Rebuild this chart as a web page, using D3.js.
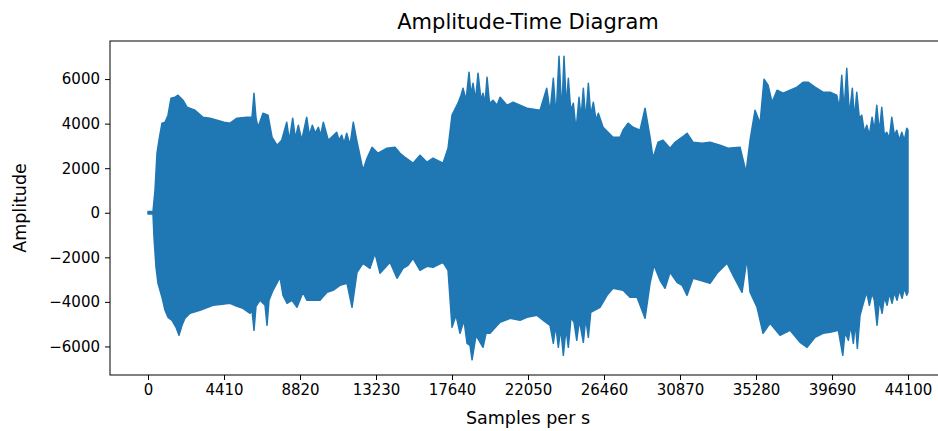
<!DOCTYPE html>
<html>
<head>
<meta charset="utf-8">
<script src="https://cdn.jsdelivr.net/npm/d3@7"></script>
<style>
  html, body { margin: 0; padding: 0; background: #fff; }
  svg { display: block; overflow: hidden; }
  text { font-family: "DejaVu Sans", sans-serif; fill: #000; }
</style>
</head>
<body>
<svg id="chart" width="938" height="431"></svg>
<script>
// Waveform envelope of a 1-second clip sampled at 44100 Hz: [sample index, amplitude]
const upperEnvelope = [
  [0, 60], [290, 60], [406, 1010], [522, 2672], [638, 3255], [812, 4019], [987, 4063],
  [1161, 4378], [1335, 5141], [1567, 5186], [1741, 5276], [2031, 5051], [2263, 4737],
  [2727, 4602], [3192, 4288], [3598, 4243], [4004, 4153], [4410, 4063], [4758, 4019],
  [5165, 4243], [5745, 4288], [6035, 4288], [6151, 5365], [6267, 4243], [6383, 3839],
  [6673, 4468], [6964, 4378], [7196, 3390], [7486, 3031],
  [7759, 3255], [8049, 4063], [8200, 3255], [8397, 4243], [8548, 3345], [8722, 3929],
  [8919, 3255], [9209, 4288], [9360, 3480], [9534, 3929], [9708, 3570], [9883, 3839],
  [10022, 3480], [10173, 4063], [10463, 3255], [10950, 3614], [11084, 3255], [11241, 3480],
  [11374, 3121], [11531, 3570], [11722, 3031], [11913, 4063], [12110, 3255], [12476, 1908],
  [12709, 2447], [12999, 2941], [13347, 2672], [13869, 2896],
  [14333, 2941], [14624, 2672], [14914, 2492], [15378, 2223], [15784, 2582], [16190, 2267],
  [16539, 2447], [17119, 2223], [17409, 2896], [17641, 4378],
  [17989, 4917], [18163, 5276], [18279, 5590], [18453, 5051], [18628, 6309], [18744, 5276],
  [18860, 5815], [19005, 5051], [19150, 6264], [19324, 5051], [19440, 5365], [19556, 4917],
  [19672, 6084], [19817, 4917], [20020, 5051], [20253, 4827], [20427, 5186],
  [20833, 4827], [21181, 4961], [21587, 4827], [21993, 4692],
  [22748, 4602], [23137, 5590], [23328, 4512], [23520, 6039], [23676, 4288], [23850, 7027],
  [24007, 4468], [24140, 7027], [24274, 4737], [24390, 6039], [24529, 4602], [24680, 4917],
  [24837, 3704], [25011, 5186], [25127, 4243], [25261, 5590], [25400, 4153], [25551, 5815],
  [25690, 4378], [25841, 4961], [25997, 4153], [26131, 4468],
  [26404, 3839], [26984, 3390], [27390, 3390],
  [27564, 3704], [27854, 4019], [28145, 3839], [28551, 3704], [28841, 4692], [29131, 3390],
  [29305, 2447], [29595, 3165], [29885, 3255], [30292, 2896], [30582, 3165], [30988, 3390],
  [31278, 3570], [31626, 3165], [32149, 3121], [32613, 3165], [33193, 3031], [33657, 2896],
  [34354, 2941], [34702, 1818], [34934, 3255], [35224, 4602], [35514, 4019], [35746, 5994],
  [35979, 5725], [36211, 4961], [36501, 5500], [36849, 5365], [37255, 5500], [37661, 5635],
  [38010, 5859], [38300, 5859], [38706, 5635], [39170, 5410], [39576, 5410],
  [39965, 5276], [40116, 4692], [40255, 6174], [40389, 4602], [40545, 6488], [40696, 4378],
  [40870, 5590], [40986, 4243], [41126, 5410], [41276, 4243], [41416, 4378], [41567, 3614],
  [41706, 3929], [41857, 3480], [42014, 4288], [42147, 3704], [42287, 4827], [42438, 3614],
  [42577, 4737], [42728, 3480], [42867, 3614], [43018, 3345], [43157, 4288], [43308, 3480],
  [43447, 3704], [43598, 3255], [43737, 3614], [43888, 3255], [44027, 3794], [44099, 3704]
];

const lowerEnvelope = [
  [0, -60], [290, -60], [348, -1100], [464, -2447], [580, -3166], [812, -3794], [987, -4378],
  [1161, -4692], [1393, -4827], [1625, -5141], [1799, -5500], [1973, -5051], [2147, -4737],
  [2437, -4512], [3018, -4378], [3772, -4153], [4294, -4108], [4758, -4063], [5165, -4198],
  [5513, -4288], [5919, -4512], [6035, -4378], [6151, -5276], [6267, -4198], [6499, -3929],
  [6790, -4153], [6906, -5051], [7022, -3929], [7254, -3480], [7660, -2896], [7834, -3704],
  [8066, -4063], [8356, -3929], [8646, -4243], [8995, -3570], [9227, -3929], [9575, -3929],
  [9981, -3929], [10387, -3570], [10736, -3480], [11142, -3255], [11548, -3166], [11838, -4243],
  [12128, -2672], [12476, -2267], [12883, -2492], [13173, -1818], [13463, -2716], [14043, -2223],
  [14449, -2941], [14797, -2492], [15088, -2357], [15378, -2043], [15784, -2582], [16190, -2402],
  [16539, -2447], [17119, -2223], [17409, -2582], [17641, -5141], [17873, -4602], [18105, -5410],
  [18337, -4827], [18512, -5859], [18686, -5949], [18802, -6600], [19034, -5500], [19440, -6039],
  [19614, -5410], [19846, -5410], [20427, -4917], [21007, -4737], [21587, -4827], [21993, -4692],
  [22574, -4602],
  [22939, -4827], [23328, -5051], [23520, -5859], [23659, -5051], [23810, -6039], [23949, -5186],
  [24100, -6398], [24257, -5186], [24390, -6039], [24547, -4692], [24721, -4917], [24878, -5725],
  [25029, -4827], [25261, -5815], [25400, -4737], [25551, -5590], [25690, -4468],
  [26230, -4243], [26636, -3704], [26984, -3390], [27564, -3480], [27970, -3794], [28377, -3794],
  [28841, -4737], [29131, -3166], [29363, -2357], [29711, -3031], [30002, -3390], [30292, -2672],
  [30698, -3121], [30988, -3255], [31278, -3704], [31626, -2941], [32033, -3031], [32613, -3166],
  [33019, -2716], [33599, -2267], [33948, -2806], [34470, -3570], [34760, -2043], [34934, -3570],
  [35340, -4243], [35688, -5410], [36095, -4961], [36675, -5500], [37255, -5276], [37836, -5815],
  [38242, -6039], [38706, -5590], [39170, -5410], [39576, -5365],
  [40058, -5276], [40313, -6398], [40447, -5365], [40638, -5725], [40777, -5051], [40928, -5859],
  [41044, -4917], [41160, -6084], [41317, -4602], [41474, -4153],
  [41590, -3839], [41706, -3570], [41857, -4153], [42014, -3615], [42147, -3929], [42304, -5051],
  [42438, -3929], [42594, -4512], [42728, -3794], [42884, -4153], [43018, -3615], [43174, -4063],
  [43308, -3570], [43464, -3929], [43598, -3480], [43755, -3839], [43888, -3390], [44027, -3704],
  [44099, -3570]
];

const xTickValues = [0, 4410, 8820, 13230, 17640, 22050, 26460, 30870, 35280, 39690, 44100];
const yTickValues = [-6000, -4000, -2000, 0, 2000, 4000, 6000];

const titleText = "Amplitude-Time Diagram";
const xLabelText = "Samples per s";
const yLabelText = "Amplitude";

const svg = d3.select("#chart");
const plot = { left: 110, top: 41, right: 946, bottom: 375 };
const lineColor = "#1f77b4";

// Axis extents: data range padded by 5% on each side
const xs = upperEnvelope.map(d => d[0]).concat(lowerEnvelope.map(d => d[0]));
const ys = upperEnvelope.map(d => d[1]).concat(lowerEnvelope.map(d => d[1]));
const [x0, x1] = d3.extent(xs);
const [y0, y1] = d3.extent(ys);
const xPad = (x1 - x0) * 0.05, yPad = (y1 - y0) * 0.05;

const x = d3.scaleLinear().domain([x0 - xPad, x1 + xPad]).range([plot.left, plot.right]);
const y = d3.scaleLinear().domain([y0 - yPad, y1 + yPad]).range([plot.bottom, plot.top]);

// Filled waveform: upper envelope forward, lower envelope back
const outline = upperEnvelope.concat(lowerEnvelope.slice().reverse());
const line = d3.line().x(d => x(d[0])).y(d => y(d[1]));

svg.append("path")
  .attr("d", line(outline) + "Z")
  .attr("fill", lineColor)
  .attr("stroke", lineColor)
  .attr("stroke-width", 1.5)
  .attr("stroke-linejoin", "round");

// Spines
svg.append("rect")
  .attr("x", plot.left).attr("y", plot.top)
  .attr("width", plot.right - plot.left).attr("height", plot.bottom - plot.top)
  .attr("fill", "none").attr("stroke", "#000").attr("stroke-width", 1);

const minus = s => s.replace("-", "\u2212");

// X axis
const xAxis = d3.axisBottom(x).tickValues(xTickValues).tickSize(5).tickPadding(4)
  .tickFormat(d => String(d));
const gx = svg.append("g").attr("transform", `translate(0,${plot.bottom})`).call(xAxis);
gx.select(".domain").remove();
gx.selectAll("text").attr("font-family", "DejaVu Sans").attr("font-size", 15).attr("fill", "#000");
gx.selectAll("line").attr("stroke", "#000");

// Y axis
const yAxis = d3.axisLeft(y).tickValues(yTickValues).tickSize(5).tickPadding(5)
  .tickFormat(d => minus(String(d)));
const gy = svg.append("g").attr("transform", `translate(${plot.left},0)`).call(yAxis);
gy.select(".domain").remove();
gy.selectAll("text").attr("font-family", "DejaVu Sans").attr("font-size", 15).attr("fill", "#000");
gy.selectAll("line").attr("stroke", "#000");

// Title and axis labels
svg.append("text")
  .attr("x", (plot.left + plot.right) / 2).attr("y", 29)
  .attr("text-anchor", "middle").attr("font-size", 21)
  .text(titleText);

svg.append("text")
  .attr("x", (plot.left + plot.right) / 2).attr("y", 424)
  .attr("text-anchor", "middle").attr("font-size", 17.5)
  .text(xLabelText);

svg.append("text")
  .attr("transform", `translate(26,${(plot.top + plot.bottom) / 2}) rotate(-90)`)
  .attr("text-anchor", "middle").attr("font-size", 17.5)
  .text(yLabelText);
</script>
</body>
</html>
